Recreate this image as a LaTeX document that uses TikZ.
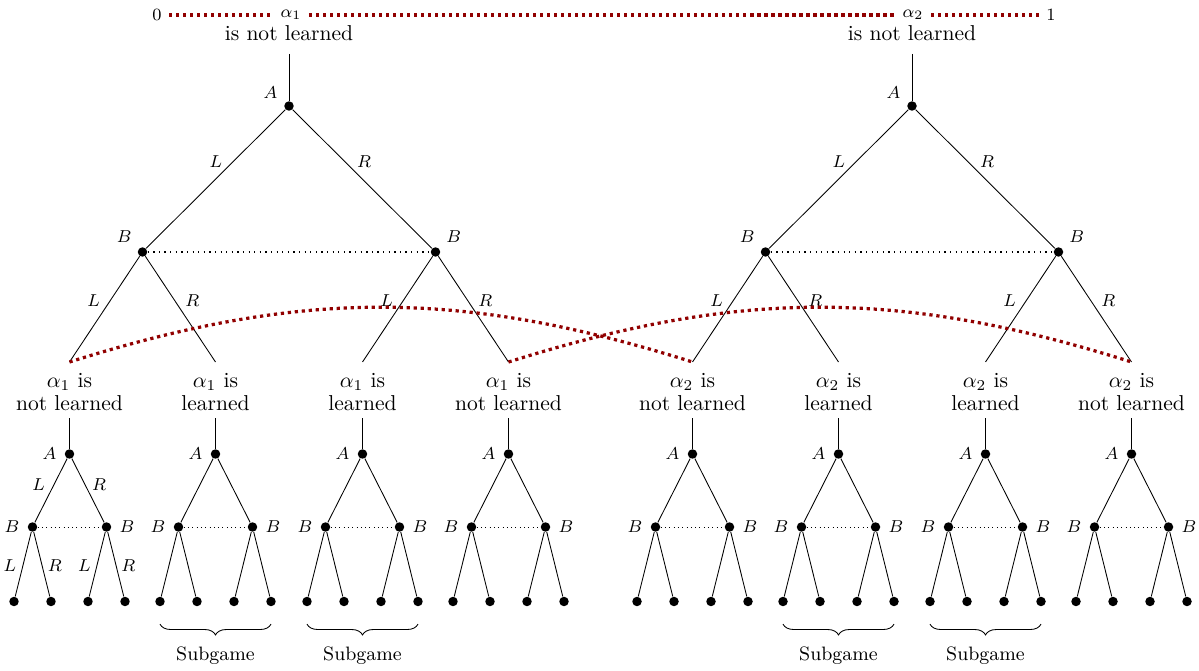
\documentclass[tikz,border=0pt]{standalone}
\usetikzlibrary{decorations.pathreplacing,positioning}
\definecolor{beliefred}{RGB}{145,0,0}
\begin{document}
\begin{tikzpicture}[x=0.464pt, y=-0.464pt,
  dot/.style={circle, fill, inner sep=0pt, minimum size=4.4pt},
  every label/.style={font=\footnotesize, inner sep=1pt},
  label distance=2.5pt,
  edgelbl/.style={font=\footnotesize, inner sep=1pt, anchor=center, pos=0.5},
  info/.style={line width=0.6pt, dash pattern=on 0.6pt off 2pt},
  infosmall/.style={line width=0.4pt, dash pattern=on 0.4pt off 1.6pt},
  belief/.style={draw=beliefred, line width=1.5pt, dash pattern=on 1.5pt off 1.75pt},
  outcome/.style={align=center, anchor=south},
  toplbl/.style={anchor=base, outer sep=2.8pt},
  subgame/.style={decorate, decoration={brace, mirror, amplitude=5pt}},
  bigtree/.pic={
    \node[dot, label={150:$A$}] (-A) at (0,0) {};
    \node[dot, label={142:$B$}] (-B1) at (-146.5,146) {};
    \node[dot, label={38:$B$}] (-B2) at (146.5,146) {};
    \coordinate (-e1) at (-219.5,256);
    \coordinate (-e2) at (-73.5,256);
    \coordinate (-e3) at (73.5,256);
    \coordinate (-e4) at (219.5,256);
    \draw (-A) -- node[edgelbl, shift={(0,-17)}] {$L$} (-B1);
    \draw (-A) -- node[edgelbl, shift={(1.75,-17)}] {$R$} (-B2);
    \draw (-B1) -- node[edgelbl, shift={(-11,-9)}] {$L$} (-e1);
    \draw (-B1) -- node[edgelbl, shift={(12,-9)}] {$R$} (-e2);
    \draw (-B2) -- node[edgelbl, shift={(-11,-9)}] {$L$} (-e3);
    \draw (-B2) -- node[edgelbl, shift={(12,-9)}] {$R$} (-e4);
    \draw[info] (-B1) -- (-B2);
  },
  gametree/.pic={
    \node[dot, label={left:$A$}] (-A) at (0,0) {};
    \node[dot, label={left:$B$}] (-B1) at (-37,73) {};
    \node[dot, label={right:$B$}] (-B2) at (37,73) {};
    \node[dot] (-l1) at (-55.5,147.5) {};
    \node[dot] (-l2) at (-18.5,147.5) {};
    \node[dot] (-l3) at (18.5,147.5) {};
    \node[dot] (-l4) at (55.5,147.5) {};
    \draw (-A) -- (-B1);
    \draw (-A) -- (-B2);
    \draw (-B1) -- (-l1);
    \draw (-B1) -- (-l2);
    \draw (-B2) -- (-l3);
    \draw (-B2) -- (-l4);
    \draw[infosmall] (-B1) -- (-B2);
  }
]
\useasboundingbox (0,0) rectangle (1199,670);

% the belief line across the top
\node[font=\footnotesize] (zero) at (157,15) {0};
\node[font=\footnotesize] (a1) at (291,15) {$\alpha_1$};
\node[font=\footnotesize] (a2) at (913,15) {$\alpha_2$};
\node[font=\footnotesize] (one) at (1051,15) {1};
\draw[belief] (zero) -- (a1) -- (a2) -- (one);
\node[toplbl] (t1) at (289,40.5) {is not learned};
\node[toplbl] (t2) at (912,40.5) {is not learned};

% first-stage trees
\pic (T1) at (289,106) {bigtree};
\pic (T2) at (912,106) {bigtree};
\draw (t1) -- (T1-A);
\draw (t2) -- (T2-A);

% outcomes of the first stage
\node[outcome] (o1) at (69.5,418) {$\alpha_1$ is\\[-1.3pt]not learned};
\node[outcome] (o2) at (215.5,418) {$\alpha_1$ is\\[-1.3pt]learned};
\node[outcome] (o3) at (362.5,418) {$\alpha_1$ is\\[-1.3pt]learned};
\node[outcome] (o4) at (508.5,418) {$\alpha_1$ is\\[-1.3pt]not learned};
\node[outcome] (o5) at (692.5,418) {$\alpha_2$ is\\[-1.3pt]not learned};
\node[outcome] (o6) at (838.5,418) {$\alpha_2$ is\\[-1.3pt]learned};
\node[outcome] (o7) at (985.5,418) {$\alpha_2$ is\\[-1.3pt]learned};
\node[outcome] (o8) at (1131.5,418) {$\alpha_2$ is\\[-1.3pt]not learned};

% beliefs linking the unlearned outcomes
\draw[belief] (T1-e1) to[bend left=17.5] (T2-e1);
\draw[belief] (T1-e4) to[bend left=17.5] (T2-e4);

% second-stage trees
\pic (s1) at (69.5,454) {gametree};
\pic (s2) at (215.5,454) {gametree};
\pic (s3) at (362.5,454) {gametree};
\pic (s4) at (508.5,454) {gametree};
\pic (s5) at (692.5,454) {gametree};
\pic (s6) at (838.5,454) {gametree};
\pic (s7) at (985.5,454) {gametree};
\pic (s8) at (1131.5,454) {gametree};
\foreach \i in {1,...,8} \draw (o\i) -- (s\i-A);

% action labels of the first second-stage tree
\path (s1-A) -- node[edgelbl, shift={(-12.5,-5.5)}] {$L$} (s1-B1);
\path (s1-A) -- node[edgelbl, shift={(11,-5.5)}] {$R$} (s1-B2);
\path (s1-B1) -- node[edgelbl, shift={(-13.5,1)}] {$L$} (s1-l1);
\path (s1-B1) -- node[edgelbl, shift={(13,1)}] {$R$} (s1-l2);
\path (s1-B2) -- node[edgelbl, shift={(-13,1)}] {$L$} (s1-l3);
\path (s1-B2) -- node[edgelbl, shift={(12.5,1)}] {$R$} (s1-l4);

% subgame braces
\foreach \s in {s2,s3,s6,s7}
  \draw[subgame] ([yshift=-10.5pt]\s-l1.center) -- ([yshift=-10.5pt]\s-l4.center)
    node[midway, below=7.2pt, font=\small] {Subgame};
\end{tikzpicture}
\end{document}
